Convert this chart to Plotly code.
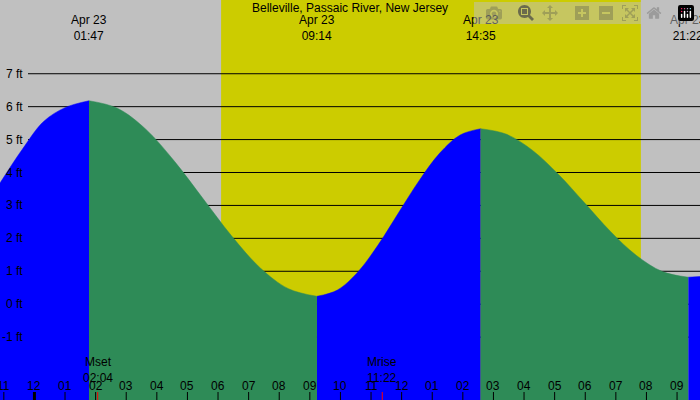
import plotly.graph_objects as go

# tide curve (hours after midnight Apr 23, feet)
seg_hours = [
    [-1.125, -0.4, 0.3, 1.0, 1.783],
    [1.783, 2.714, 3.646, 4.577, 5.508, 6.439, 7.371, 8.302, 9.233],
    [9.233, 9.902, 10.571, 11.239, 11.908, 12.577, 13.246, 13.914, 14.583],
    [14.583, 15.431, 16.280, 17.128, 17.976, 18.825, 19.673, 20.522, 21.37],
    [21.37, 21.75],
]
seg_feet = [
    [3.68, 4.7, 5.55, 5.97, 6.18],
    [6.18, 5.95, 5.31, 4.34, 3.21, 2.08, 1.11, 0.47, 0.24],
    [0.24, 0.43, 0.98, 1.81, 2.79, 3.76, 4.59, 5.14, 5.33],
    [5.33, 5.16, 4.67, 3.94, 3.08, 2.21, 1.48, 0.99, 0.82],
    [0.82, 0.84],
]
seg_rising = [True, False, True, False, True]

extreme_hours = [1.783, 9.233, 14.583, 21.37]
extreme_labels = ["01:47", "09:14", "14:35", "21:22"]

moon_hours = [2.067, 11.367]
moon_labels = ["Mset<br>02:04", "Mrise<br>11:22"]

day_start, day_end = 6.1, 19.82
tick_hours = list(range(-1, 22))
tick_text = ["11", "12"] + ["%02d" % h for h in range(1, 13)] + ["%02d" % h for h in range(1, 10)]
y_levels = list(range(-1, 8))

x0, x1 = -1.125, 21.75
y0, y1 = -2.91, 9.24

fig = go.Figure()
for hs, fs, up in zip(seg_hours, seg_feet, seg_rising):
    col = "#0000ff" if up else "#2e8b57"
    fig.add_trace(go.Scatter(x=hs, y=[y0] * len(hs), mode="lines",
                             line=dict(width=0), hoverinfo="skip"))
    fig.add_trace(go.Scatter(x=hs, y=fs, mode="lines", fill="tonexty",
                             fillcolor=col, line=dict(color=col, width=0.5, shape="spline"),
                             hoverinfo="skip"))

shapes = [
    dict(type="rect", xref="x", yref="paper", x0=x0, x1=day_start, y0=0, y1=1,
         fillcolor="#c0c0c0", line_width=0, layer="below"),
    dict(type="rect", xref="x", yref="paper", x0=day_start, x1=day_end, y0=0, y1=1,
         fillcolor="#cccc00", line_width=0, layer="below"),
    dict(type="rect", xref="x", yref="paper", x0=day_end, x1=x1, y0=0, y1=1,
         fillcolor="#c0c0c0", line_width=0, layer="below"),
]
for v in y_levels:
    shapes.append(dict(type="line", xref="paper", yref="y", x0=28 / 700, x1=1, y0=v, y1=v,
                       line=dict(color="black", width=1), layer="below"))
for h in tick_hours:
    shapes.append(dict(type="line", xref="x", yref="paper", x0=h, x1=h, y0=0, y1=8 / 400,
                       line=dict(color="black", width=3 if h == 0 else 1)))
for h in moon_hours:
    shapes.append(dict(type="line", xref="x", yref="paper", x0=h, x1=h, y0=0, y1=8 / 400,
                       line=dict(color="red", width=1)))

ann = [dict(text="Belleville, Passaic River, New Jersey", xref="paper", yref="paper",
            x=0.5, y=1 - 8 / 400, yanchor="middle", showarrow=False)]
for h, t in zip(extreme_hours, extreme_labels):
    ann.append(dict(text="Apr 23<br>" + t, x=h, xref="x", yref="paper", y=1 - 11 / 400,
                    yanchor="top", showarrow=False))
for v in y_levels:
    ann.append(dict(text="%d ft" % v, x=25 / 700, xref="paper", yref="y", y=v,
                    xanchor="right", showarrow=False))
for h, t in zip(tick_hours, tick_text):
    ann.append(dict(text=t, x=h, xref="x", yref="paper", y=14 / 400,
                    yanchor="middle", showarrow=False))
for h, t in zip(moon_hours, moon_labels):
    ann.append(dict(text=t, x=h, xref="x", yref="paper", y=1 - 353 / 400,
                    yanchor="top", showarrow=False))

fig.update_layout(
    width=700, height=400, margin=dict(l=0, r=0, t=0, b=0),
    showlegend=False, plot_bgcolor="#c0c0c0", paper_bgcolor="#c0c0c0",
    font=dict(family="Liberation Sans, Arial", size=12, color="black"),
    xaxis=dict(range=[x0, x1], visible=False),
    yaxis=dict(range=[y0, y1], visible=False),
    shapes=shapes, annotations=ann,
)
fig.write_html("out.html", post_script="document.body.style.margin='0';")
